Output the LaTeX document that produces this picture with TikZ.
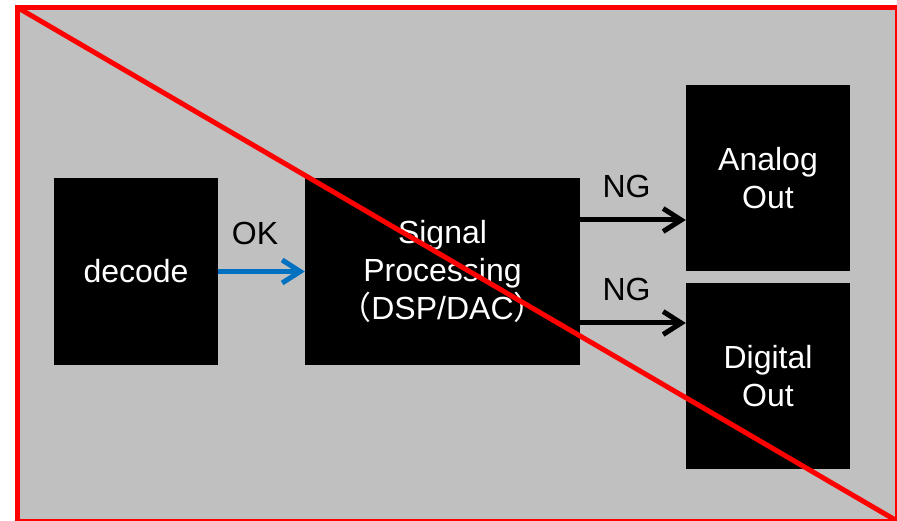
\documentclass[tikz,border=0pt]{standalone}
\usepackage{fontspec}
\setmainfont{Liberation Sans}
\newfontfamily\cjk{Noto Sans CJK JP}
\usetikzlibrary{arrows.meta}
\definecolor{panelgray}{RGB}{192,192,192}
\definecolor{okblue}{RGB}{0,112,192}
\definecolor{crossred}{RGB}{255,0,0}
\tikzset{
  blockbox/.style={fill=black,text=white,align=center,inner sep=0pt,font=\fontsize{32}{38}\selectfont},
  flowlabel/.style={font=\fontsize{32}{38}\selectfont,text=black,inner sep=0pt},
  flowarrow/.style={line width=5pt,-{Straight Barb[length=18pt,width=23pt]}}
}
\begin{document}
\begin{tikzpicture}[x=1pt,y=-1pt]
  \useasboundingbox (0,0) rectangle (897,521);
  % panel
  \fill[panelgray] (17.5,7.5) rectangle (897,521);
  % blocks
  \node[blockbox,minimum width=164pt,minimum height=187pt] (decode) at (136,271.5) {decode};
  \node[blockbox,minimum width=275pt,minimum height=187pt] (dsp) at (442.5,271.5) {Signal\\Processing\\{\cjk （}DSP/DAC{\cjk ）}};
  \node[blockbox,minimum width=164pt,minimum height=186pt] (analog) at (768,178) {Analog\\Out};
  \node[blockbox,minimum width=164pt,minimum height=186pt] (digital) at (768,376) {Digital\\Out};
  % connectors
  \coordinate (ngup) at ([yshift=51.5pt]dsp.east);
  \coordinate (ngdown) at ([yshift=-51.5pt]dsp.east);
  \draw[flowarrow,okblue] (decode) -- (decode -| dsp.west);
  \draw[flowarrow,black] (ngup) -- (ngup -| analog.west);
  \draw[flowarrow,black] (ngdown) -- (ngdown -| digital.west);
  \node[flowlabel] (ok) at (255,233.5) {OK};
  \node[flowlabel] (ngone) at (626.5,186) {NG};
  \node[flowlabel] (ngtwo) at (626.5,289) {NG};
  % cross out
  \draw[crossred,line width=5pt] (17.5,7.5) rectangle (897,521);
  \draw[crossred,line width=5pt] (17.5,7.5) -- (897,521);
\end{tikzpicture}
\end{document}
